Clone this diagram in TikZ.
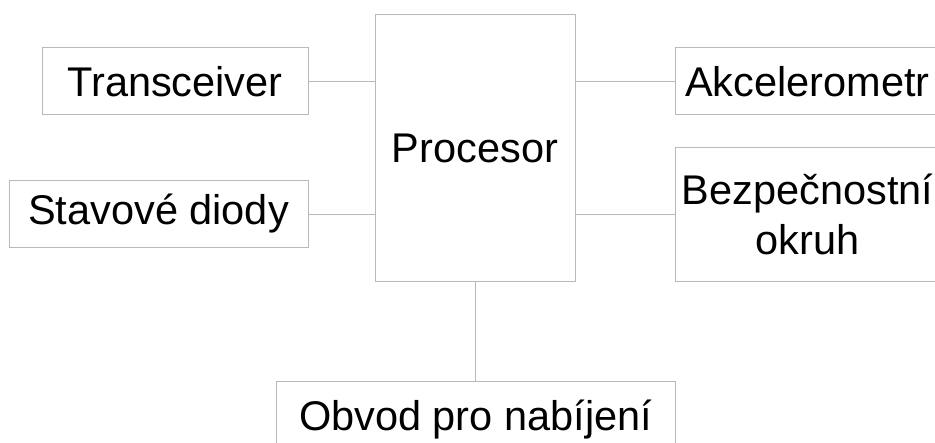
\documentclass[tikz,border=0pt]{standalone}
\usepackage{fontspec}
\setmainfont{Liberation Sans}
\definecolor{linegray}{RGB}{185,185,185}

\begin{document}
\begin{tikzpicture}[x=0.5pt, y=-0.5pt,
          block/.style={rectangle, draw=linegray, line width=0.5pt, fill=white,
            inner sep=0pt, outer sep=0pt, align=center,
            font=\fontsize{20.75}{25}\selectfont},
          wire/.style={draw=linegray, line width=0.5pt}]

        \useasboundingbox (0,0) rectangle (935,443);
        \clip (0,0) rectangle (935,443);

        \node[block, minimum width=133pt, minimum height=33.5pt] (trans) at (175,81.5)  {Transceiver};
        \node[block, minimum width=149.5pt, minimum height=33pt] (diody) at (158.5,214) {Stavové diody};

        \node[block, minimum width=100pt, minimum height=133pt]  (proc)  at (475,148)   {Procesor};

        \node[block, minimum width=132.5pt, minimum height=33.5pt] (akcel) at (807.5,81.5) {Akcelerometr};
        \node[block, minimum width=132.5pt, minimum height=66.5pt] (bezp)  at (807.5,214.5) {Bezpečnostní\\okruh};

        \node[block, minimum width=199.5pt, minimum height=39pt] (obvod) at (475.5,420) {Obvod pro nabíjení};

        \draw[wire] (trans.east) -- (trans.east -| proc.west);
        \draw[wire] (diody.east) -- (diody.east -| proc.west);
        \draw[wire] (akcel.west -| proc.east) -- (akcel.west);
        \draw[wire] (bezp.west -| proc.east) -- (bezp.west);
        \draw[wire] (proc.south -| obvod.north) -- (obvod.north);

      \end{tikzpicture}
\end{document}
